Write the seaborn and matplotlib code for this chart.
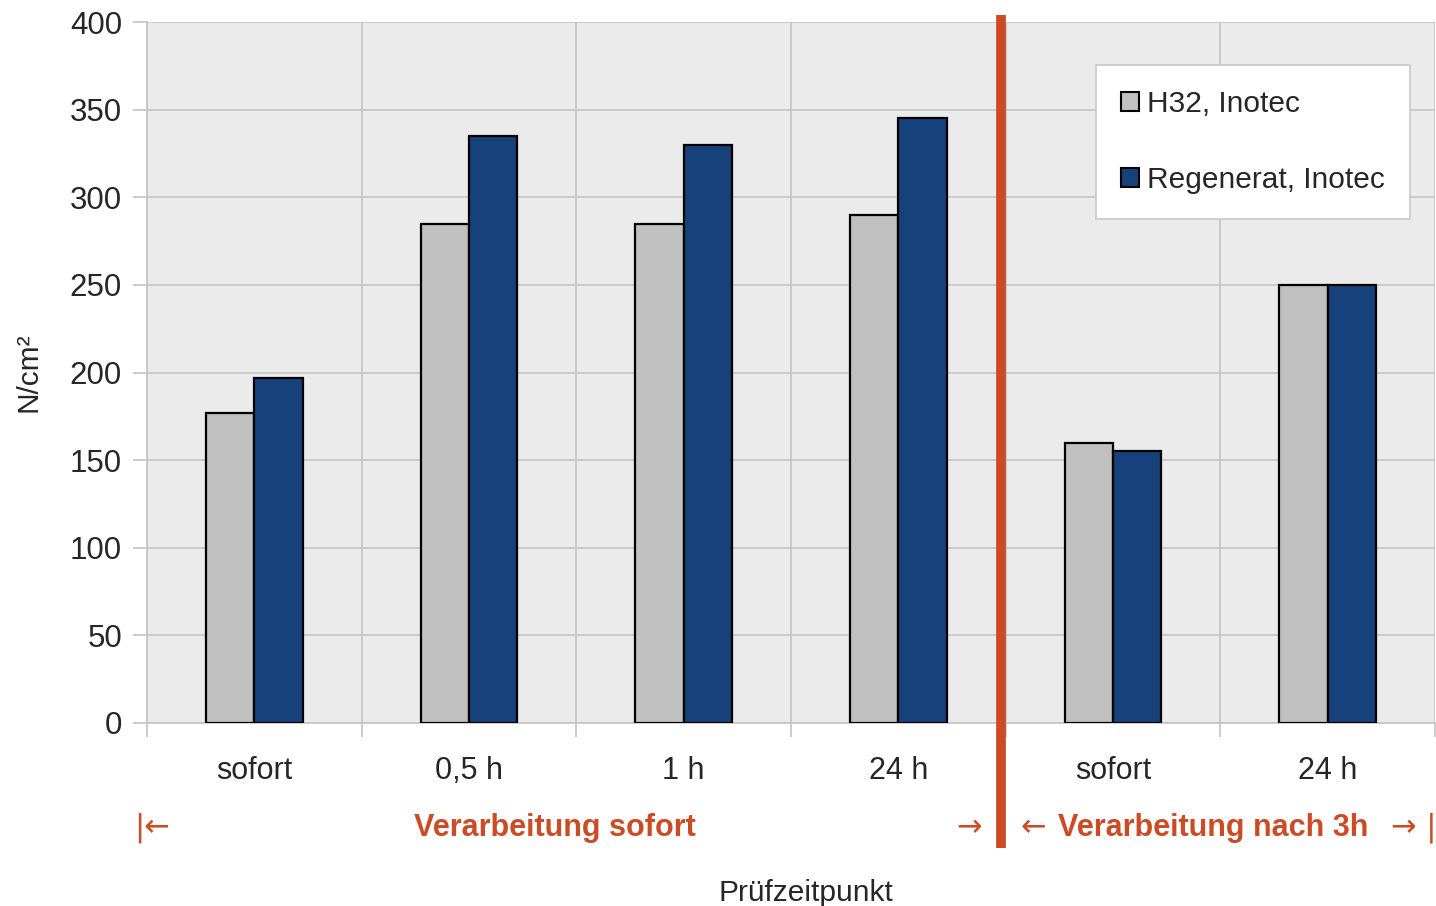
import matplotlib
matplotlib.use("Agg")
import matplotlib.pyplot as plt
import matplotlib.transforms as mtransforms
from matplotlib.patches import Patch
from matplotlib.ticker import FixedLocator
import pandas as pd
import seaborn as sns

# Test times (tick labels) and group keys
categories = ["sofort", "0,5 h", "1 h", "24 h", "sofort", "24 h"]
keys = ["s1", "h05", "h1", "h24a", "s2", "h24b"]
series_names = ["H32, Inotec", "Regenerat, Inotec"]
h32_values = [177, 285, 285, 290, 160, 250]
regenerat_values = [197, 335, 330, 345, 155, 250]
y_ticks = [0, 50, 100, 150, 200, 250, 300, 350, 400]

GREY = "#C0C0C0"
BLUE = "#17417A"
ORANGE = "#CC4B25"
BG = "#EBEBEB"
GRID = "#C4C4C4"

df = pd.DataFrame({
    "key": keys * 2,
    "series": [series_names[0]] * len(keys) + [series_names[1]] * len(keys),
    "value": h32_values + regenerat_values,
})

sns.set_theme(style="white")
plt.rcParams["font.family"] = ["Liberation Sans", "DejaVu Sans"]

fig = plt.figure(figsize=(14.36, 9.06), dpi=100)
ax = fig.add_axes([147 / 1436, 1 - 723 / 906, 1288 / 1436, 701 / 906])
ax.set_facecolor(BG)

sns.barplot(data=df, x="key", y="value", hue="series", order=keys,
            hue_order=series_names, palette=[GREY, BLUE], saturation=1,
            width=0.45, edgecolor="black", linewidth=1.6, ax=ax,
            legend=False, zorder=3)

ax.set_xlim(-0.5, len(keys) - 0.5)
ax.set_ylim(0, 400)
ax.yaxis.set_major_locator(FixedLocator(y_ticks))
ax.set_yticklabels([str(v) for v in y_ticks], fontsize=22.5)
ax.set_xticks(range(len(keys)))
ax.set_xticklabels(categories, fontsize=22)
ax.xaxis.set_minor_locator(FixedLocator([i - 0.5 for i in range(len(keys) + 1)]))

ax.tick_params(axis="x", which="major", length=0, pad=24)
ax.tick_params(axis="x", which="minor", length=10, width=1.2, color=GRID,
               direction="out", bottom=True)
ax.tick_params(axis="y", length=10, width=1.2, color=GRID, pad=8,
               direction="out", left=True)

ax.grid(axis="y", which="major", color=GRID, linewidth=1.2, zorder=0)
ax.grid(axis="x", which="minor", color=GRID, linewidth=1.2, zorder=0)
ax.grid(axis="x", which="major", visible=False)
ax.set_axisbelow(True)

for side in ["top", "right"]:
    ax.spines[side].set_visible(False)
for side in ["left", "bottom"]:
    ax.spines[side].set_color(GRID)
    ax.spines[side].set_linewidth(1.2)

ax.set_ylabel("N/cm²", fontsize=21.5)
ax.yaxis.set_label_coords(-0.081, 0.5)
ax.set_xlabel("Prüfzeitpunkt", fontsize=21.5)
ax.xaxis.set_label_coords(0.5116, -0.222)

# Separator between the two processing phases
ax.axvline(3.48, ymin=-0.178, ymax=1.01, color=ORANGE, linewidth=7,
           solid_capstyle="butt", clip_on=False, zorder=5)

# Phase annotations below the category labels
trans = mtransforms.blended_transform_factory(ax.transData, fig.transFigure)
ytxt = 1 - 828 / 906
txt_kw = dict(transform=trans, color=ORANGE, fontsize=22, fontweight="bold",
              va="center", ha="center")
arrow_kw = dict(transform=trans, color=ORANGE, fontsize=22, va="center",
                ha="center", family=["DejaVu Sans"])
ax.text(1.40, ytxt, "Verarbeitung sofort", **txt_kw)
ax.text(4.466, ytxt, "Verarbeitung nach 3h", **txt_kw)
ax.text(-0.475, ytxt, "|←", **arrow_kw)
ax.text(3.33, ytxt, "→", **arrow_kw)
ax.text(3.63, ytxt, "←", **arrow_kw)
ax.text(5.40, ytxt, "→ |", **arrow_kw)

# Legend
handles = [Patch(facecolor=GREY, edgecolor="black", linewidth=1.5),
           Patch(facecolor=BLUE, edgecolor="black", linewidth=1.5)]
leg = ax.legend(handles, series_names, loc="upper right",
                bbox_to_anchor=(1410 / 1436, 1 - 65 / 906),
                bbox_transform=fig.transFigure, fontsize=21.5,
                frameon=True, fancybox=False, framealpha=1,
                edgecolor="#C8C8C8", facecolor="white",
                handlelength=0.6, handleheight=0.6, handletextpad=0.25,
                labelspacing=1.58, borderpad=0.85, borderaxespad=0)
leg.get_frame().set_linewidth(1.2)

fig.savefig("out.png", dpi=100, facecolor="white")
